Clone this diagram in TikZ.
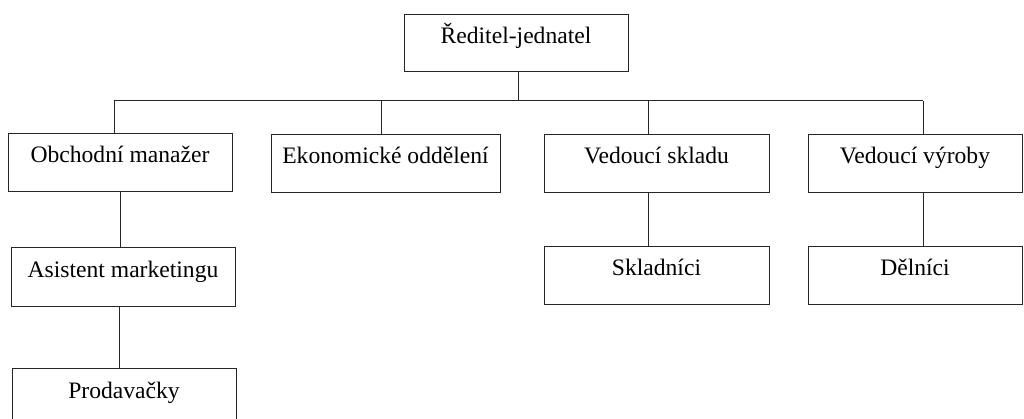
\documentclass[tikz,border=0pt]{standalone}
\usepackage{fontspec}
\setmainfont{Liberation Serif}
\begin{document}
\begin{tikzpicture}[x=1pt,y=-1pt,
  box/.style={draw=black!85, line width=1pt, inner sep=0pt, anchor=north,
    text height=29.5pt, text depth=28.5pt, font=\fontsize{23.6}{27}\selectfont},
  conn/.style={draw=black!85, line width=1pt}]
\useasboundingbox (0,0) rectangle (1024,419);
\clip (0,0) rectangle (1024,419);
\node[box, minimum width=224pt, text depth=27.5pt] (ref) at (516,14) {Ředitel-jednatel};
\node[box, minimum width=224pt] (obch) at (120,133) {Obchodní manažer};
\node[box, minimum width=229pt] (ekon) at (385.5,134) {Ekonomické oddělení};
\node[box, minimum width=225pt] (vskl) at (656.5,134) {Vedoucí skladu};
\node[box, minimum width=214pt] (vvyr) at (915,134) {Vedoucí výroby};
\node[box, minimum width=224pt, text depth=29.5pt] (asis) at (123,247) {Asistent marketingu};
\node[box, minimum width=225pt] (skla) at (656.5,246) {Skladníci};
\node[box, minimum width=214pt] (deln) at (915,246) {Dělníci};
\node[box, minimum width=224pt, text depth=40pt] (prod) at (124,368) {Prodavačky};
% bus
\coordinate (hub) at (518,101);
\coordinate (b1) at (114,101);
\coordinate (b2) at (381,101);
\coordinate (b3) at (648,101);
\coordinate (b4) at (923,101);
\draw[conn] (ref.south -| hub) -- (hub);
\draw[conn] (b1) -- (b4);
\draw[conn] (b1) -- (b1 |- obch.north);
\draw[conn] (b2) -- (b2 |- ekon.north);
\draw[conn] (b3) -- (b3 |- vskl.north);
\draw[conn] (b4) -- (b4 |- vvyr.north);
\draw[conn] (obch.south) -- (obch.south |- asis.north);
\draw[conn] ([xshift=-4pt]asis.south) -- ([xshift=-4pt]asis.south |- prod.north);
\draw[conn] (vskl.south -| b3) -- (b3 |- skla.north);
\draw[conn] (vvyr.south -| b4) -- (b4 |- deln.north);
\end{tikzpicture}
\end{document}
